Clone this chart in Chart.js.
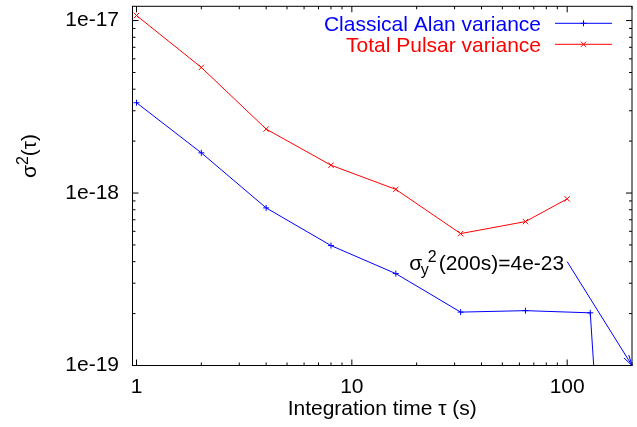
<!DOCTYPE html>
<html><head><meta charset="utf-8">
<script src="https://cdn.jsdelivr.net/npm/chart.js@4.4.1/dist/chart.umd.min.js"></script>
<style>html,body{margin:0;padding:0;background:#fff}#wrap{width:637px;height:427px}</style>
</head><body><div id="wrap"><canvas id="c" width="637" height="427"></canvas></div>
<script>
// ---- data ----
const seriesNames = ['Classical Alan variance', 'Total Pulsar variance'];
const tauAlan = [1, 2, 4, 8, 16, 32, 64, 128, 200];
const alanVar = [3.34e-18, 1.71e-18, 8.2e-19, 4.96e-19, 3.41e-19, 2.04e-19, 2.08e-19, 2.02e-19, 4e-23];
const tauPulsar = [1, 2, 4, 8, 16, 32, 64, 100];
const pulsarVar = [1.07e-17, 5.35e-18, 2.35e-18, 1.45e-18, 1.05e-18, 5.82e-19, 6.83e-19, 9.25e-19];
const xMajorTicks = [1, 10, 100];
const xTickLabels = ['1', '10', '100'];
const xMinorTicks = [2, 3, 4, 5, 6, 7, 8, 9, 20, 30, 40, 50, 60, 70, 80, 90, 200];
const yMajorTicks = [1e-19, 1e-18, 1e-17];
const yTickLabels = ['1e-19', '1e-18', '1e-17'];
const yMinorTicks = [2e-19, 3e-19, 4e-19, 5e-19, 6e-19, 7e-19, 8e-19, 9e-19, 2e-18, 3e-18, 4e-18, 5e-18, 6e-18, 7e-18, 8e-18, 9e-18];
const arrowFrom = [100, 4e-19];
const arrowTo = [200, 1e-19];
const noteMain = '(200s)=4e-23';
const xTitle = 'Integration time τ (s)';

const FONT = "'Liberation Sans', Arial, sans-serif";
const BLUE = '#0000ff', RED = '#ff0000';

function drawMarker(ctx, style, x, y, r) {
  ctx.beginPath();
  if (style === 'cross') {
    ctx.moveTo(x - r, y); ctx.lineTo(x + r, y);
    ctx.moveTo(x, y - r); ctx.lineTo(x, y + r);
  } else {
    const d = r * Math.SQRT1_2;
    ctx.moveTo(x - d, y - d); ctx.lineTo(x + d, y + d);
    ctx.moveTo(x - d, y + d); ctx.lineTo(x + d, y - d);
  }
  ctx.stroke();
}

const gnuplotDecor = {
  id: 'gnuplotDecor',
  beforeDatasetsDraw(chart) {
    const {ctx, chartArea: a, scales: {x, y}} = chart;
    ctx.save();
    ctx.strokeStyle = '#000';
    ctx.lineWidth = 1;
    ctx.beginPath();
    const xt = (vals, len) => vals.forEach(v => {
      const p = x.getPixelForValue(v);
      ctx.moveTo(p, a.bottom); ctx.lineTo(p, a.bottom - len);
      ctx.moveTo(p, a.top); ctx.lineTo(p, a.top + len);
    });
    const yt = (vals, len) => vals.forEach(v => {
      const p = y.getPixelForValue(v);
      ctx.moveTo(a.left, p); ctx.lineTo(a.left + len, p);
      ctx.moveTo(a.right, p); ctx.lineTo(a.right - len, p);
    });
    xt(xMajorTicks, 6); xt(xMinorTicks, 3);
    yt(yMajorTicks, 6); yt(yMinorTicks, 3);
    ctx.stroke();
    ctx.strokeRect(a.left, a.top, a.right - a.left, a.bottom - a.top);
    ctx.restore();
  },
  afterDatasetsDraw(chart) {
    const {ctx, scales: {x, y}} = chart;
    ctx.save();
    // legend (gnuplot style)
    const ds = chart.data.datasets;
    const rows = [[23.3, 30.8], [44.3, 51.5]];
    ds.forEach((d, i) => {
      const [ly, lb] = rows[i];
      ctx.font = '21px ' + FONT;
      ctx.fillStyle = d.borderColor;
      ctx.textAlign = 'right';
      ctx.textBaseline = 'alphabetic';
      ctx.fillText(d.label, 541, lb);
      ctx.strokeStyle = d.borderColor;
      ctx.lineWidth = 1;
      ctx.beginPath(); ctx.moveTo(555, ly); ctx.lineTo(612, ly); ctx.stroke();
      drawMarker(ctx, d.pointStyle, 583.5, ly, d.pointRadius);
    });
    // arrow
    const x1 = x.getPixelForValue(arrowFrom[0]), y1 = y.getPixelForValue(arrowFrom[1]);
    const x2 = x.getPixelForValue(arrowTo[0]), y2 = y.getPixelForValue(arrowTo[1]);
    ctx.strokeStyle = BLUE;
    ctx.lineWidth = 1;
    ctx.beginPath(); ctx.moveTo(x1, y1); ctx.lineTo(x2, y2);
    const ang = Math.atan2(y2 - y1, x2 - x1), hl = 11, ha = 15 * Math.PI / 180;
    ctx.moveTo(x2 - hl * Math.cos(ang - ha), y2 - hl * Math.sin(ang - ha)); ctx.lineTo(x2, y2);
    ctx.lineTo(x2 - hl * Math.cos(ang + ha), y2 - hl * Math.sin(ang + ha));
    ctx.stroke();
    // annotation text: sigma_y^2(200s)=4e-23
    ctx.fillStyle = '#000';
    ctx.textBaseline = 'alphabetic';
    ctx.textAlign = 'left';
    ctx.font = '21px ' + FONT;
    const w = ctx.measureText(noteMain).width;
    const base = y1 + 8;
    const m = x1 - 3 - w;
    ctx.fillText(noteMain, m, base);
    ctx.font = '16px ' + FONT;
    const supX = m - 2 - ctx.measureText('2').width;
    ctx.fillText('2', supX, base - 8);
    const subX = supX - 7;
    ctx.fillText('y', subX, base + 5);
    ctx.font = '21px ' + FONT;
    ctx.fillText('σ', subX - 11.5, base);
    // y title: sigma^2(tau), rotated
    ctx.save();
    ctx.translate(36, 156);
    ctx.rotate(-Math.PI / 2);
    ctx.textBaseline = 'alphabetic';
    ctx.textAlign = 'left';
    ctx.font = '21px ' + FONT;
    const sw = ctx.measureText('σ').width;
    ctx.font = '16px ' + FONT;
    const tw = ctx.measureText('2').width;
    ctx.font = '21px ' + FONT;
    const rw = ctx.measureText('(τ)').width;
    let sx = -(sw + tw + rw) / 2;
    ctx.fillText('σ', sx, 0);
    ctx.font = '16px ' + FONT;
    ctx.fillText('2', sx + sw, -8);
    ctx.font = '21px ' + FONT;
    ctx.fillText('(τ)', sx + sw + tw, 0);
    ctx.restore();
    ctx.restore();
  }
};

new Chart(document.getElementById('c'), {
  type: 'line',
  data: {
    datasets: [
      {
        label: seriesNames[0],
        data: tauAlan.map((t, i) => ({x: t, y: alanVar[i]})),
        borderColor: BLUE, backgroundColor: BLUE,
        borderWidth: 1, tension: 0, fill: false,
        pointStyle: 'cross', pointRadius: 3, pointBorderWidth: 1, pointBorderColor: BLUE
      },
      {
        label: seriesNames[1],
        data: tauPulsar.map((t, i) => ({x: t, y: pulsarVar[i]})),
        borderColor: RED, backgroundColor: RED,
        borderWidth: 1, tension: 0, fill: false,
        pointStyle: 'crossRot', pointRadius: 3.8, pointBorderWidth: 1, pointBorderColor: RED
      }
    ]
  },
  options: {
    responsive: false,
    animation: false,
    events: [],
    devicePixelRatio: 1,
    layout: {padding: {left: 0, right: 0.5, top: 6.3, bottom: 0}},
    plugins: {legend: {display: false}, tooltip: {enabled: false}},
    scales: {
      x: {
        type: 'logarithmic', position: 'bottom',
        min: 0.958, max: 200,
        grid: {display: false, drawTicks: false},
        border: {display: false},
        afterBuildTicks: s => { s.ticks = xMajorTicks.map(v => ({value: v})); },
        afterFit: s => { s.height = 61.5; s.paddingLeft = 0; s.paddingRight = 0; },
        ticks: {
          autoSkip: false, maxRotation: 0, minRotation: 0, padding: 9,
          color: '#000', font: {family: FONT, size: 21},
          callback: v => { const i = xMajorTicks.indexOf(v); return i >= 0 ? xTickLabels[i] : ''; }
        },
        title: {display: true, text: xTitle, color: '#000', font: {family: FONT, size: 21}, padding: {top: 0, bottom: 5}}
      },
      y: {
        type: 'logarithmic', position: 'left',
        min: 1e-19, max: 1.21e-17,
        grid: {display: false, drawTicks: false},
        border: {display: false},
        afterBuildTicks: s => { s.ticks = yMajorTicks.map(v => ({value: v})); },
        afterFit: s => { s.width = 132.5; s.paddingTop = 0; s.paddingBottom = 0; },
        ticks: {
          autoSkip: false, padding: 13.5,
          color: '#000', font: {family: FONT, size: 21},
          callback: v => { const i = yMajorTicks.indexOf(v); return i >= 0 ? yTickLabels[i] : ''; }
        }
      }
    }
  },
  plugins: [gnuplotDecor]
});
</script>
</body></html>
